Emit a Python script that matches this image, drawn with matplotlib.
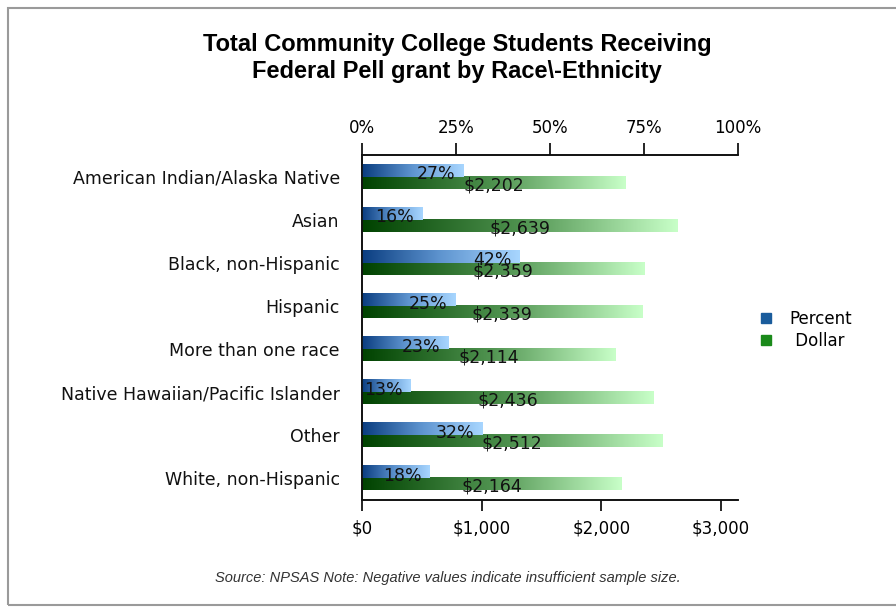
import numpy as np
import matplotlib.pyplot as plt
from matplotlib.colors import LinearSegmentedColormap
from matplotlib.lines import Line2D
from matplotlib.patches import Rectangle

# -----------------------------
# Data
# -----------------------------
groups = ["American Indian/Alaska Native", "Asian", "Black, non-Hispanic",
          "Hispanic", "More than one race", "Native Hawaiian/Pacific Islander",
          "Other", "White, non-Hispanic"]
percent = [27, 16, 42, 25, 23, 13, 32, 18]
dollar = [2202, 2639, 2359, 2339, 2114, 2436, 2512, 2164]

pct_ticks = [0, 25, 50, 75, 100]
usd_ticks = [0, 1000, 2000, 3000]

# -----------------------------
# Styling
# -----------------------------
blue_cmap = LinearSegmentedColormap.from_list("blu", ["#0a3d80", "#5f95d0", "#a8d6ff"])
green_cmap = LinearSegmentedColormap.from_list("grn", ["#004200", "#4f924f", "#c8ffc8"])
bar_h = 0.28
grad = np.linspace(0, 1, 256).reshape(1, -1)

fig = plt.figure(figsize=(8.96, 6.07), dpi=100)
ax = fig.add_axes([0.404, 0.1763, 0.4196, 0.5683])   # dollar scale (bottom)
axp = ax.twiny()                                      # percent scale (top)

y = np.arange(len(groups))


def gradient_bars(axis, vals, offset, cmap):
    bars = axis.barh(y + offset, vals, height=bar_h, color="none", edgecolor="none")
    for b in bars:
        x0, yb = b.get_x(), b.get_y()
        w, h = b.get_width(), b.get_height()
        axis.imshow(grad, cmap=cmap, aspect="auto", extent=[x0, x0 + w, yb + h, yb],
                    zorder=2, interpolation="bicubic")
    return bars


pbars = gradient_bars(axp, percent, -bar_h / 2, blue_cmap)
dbars = gradient_bars(ax, dollar, bar_h / 2, green_cmap)

ax.set_xlim(0, 3140)
axp.set_xlim(0, 100)
for a in (ax, axp):
    a.set_ylim(len(groups) - 0.5, -0.5)

# value labels
lab_font = dict(fontsize=12.5, family="DejaVu Sans", color="#111111", zorder=5)
for b, v in zip(pbars, percent):
    axp.annotate(f"{v}%", (b.get_width(), b.get_y() + b.get_height() * 0.8),
                 xytext=(-6, 0), textcoords="offset points",
                 ha="right", va="center", **lab_font)
for b, v in zip(dbars, dollar):
    ax.text(b.get_width() / 2, b.get_y() + b.get_height() * 0.7, f"${v:,}",
            ha="center", va="center", **lab_font)

# axes appearance
ax.set_yticks(y)
ax.set_yticklabels(groups, fontsize=12.5, family="DejaVu Sans", color="#111111")
ax.tick_params(axis="y", length=0, pad=16)
ax.set_xticks(usd_ticks)
ax.set_xticklabels([f"${t:,}" for t in usd_ticks], fontsize=12, family="DejaVu Sans")
ax.tick_params(axis="x", direction="out", length=8, width=1.2, pad=6)
axp.set_xticks(pct_ticks)
axp.set_xticklabels([f"{t}%" for t in pct_ticks], fontsize=12, family="DejaVu Sans")
axp.tick_params(axis="x", direction="out", length=9, width=1.2, pad=4)

for a in (ax, axp):
    a.spines["right"].set_visible(False)
    for s in ("left", "top", "bottom"):
        a.spines[s].set_linewidth(1.2)
        a.spines[s].set_color("#111111")

# legend
handles = [Line2D([], [], marker="s", linestyle="none", color="#1a5c9c", markersize=7),
           Line2D([], [], marker="s", linestyle="none", color="#1a8a1a", markersize=7)]
fig.legend(handles, ["Percent", " Dollar"], loc="center left",
           bbox_to_anchor=(0.82, 0.457), frameon=False, handletextpad=0.4,
           labelspacing=0.25, prop=dict(family="DejaVu Sans", size=12))

# titles and notes
fig.text(0.51, 0.904, "Total Community College Students Receiving\nFederal Pell grant by Race\\-Ethnicity",
         ha="center", va="center", fontsize=17, fontweight="bold",
         family="Liberation Sans", linespacing=1.2)
fig.text(0.5, 0.048, "Source: NPSAS Note: Negative values indicate insufficient sample size.",
         ha="center", va="center", fontsize=10.5, style="italic",
         family="Liberation Sans", color="#333333")

# outer frame
fig.patches.append(Rectangle((8 / 896, 2 / 607), 1.2, 597 / 607, transform=fig.transFigure,
                             fill=False, edgecolor="#9a9a9a", linewidth=1.5))

fig.savefig("out.png", dpi=100)
